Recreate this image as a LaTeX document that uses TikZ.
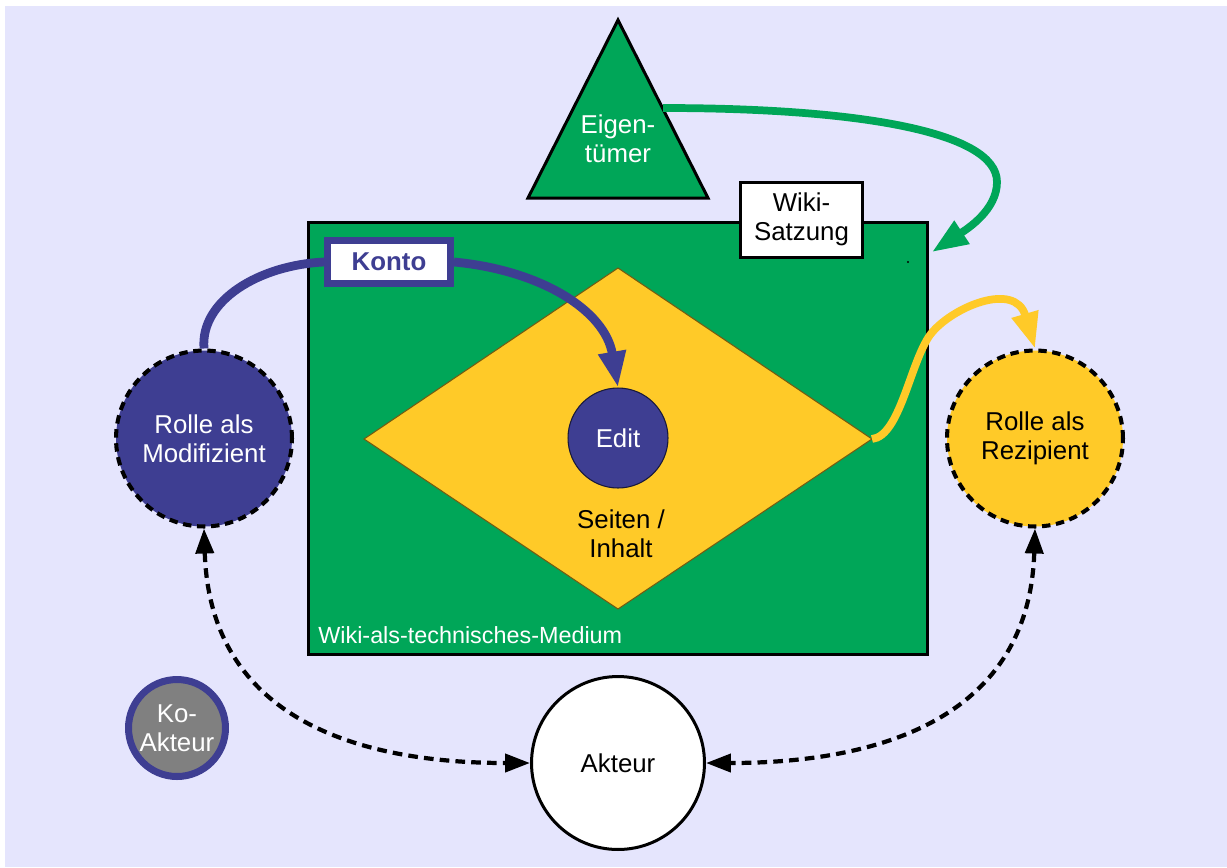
\documentclass[tikz,border=0pt]{standalone}
\usepackage{fontspec}
\setmainfont{Liberation Sans}
\usetikzlibrary{arrows.meta,calc}
\definecolor{bgl}{RGB}{229,229,253}
\definecolor{wgreen}{RGB}{0,166,88}
\definecolor{wyellow}{RGB}{255,202,40}
\definecolor{wnavy}{RGB}{62,62,146}
\definecolor{kgrey}{RGB}{128,128,128}
\begin{document}
\begin{tikzpicture}[x=0.02cm,y=-0.02cm,
  font=\fontsize{14.7}{16.5}\selectfont,
  role/.style={circle, draw=black, line width=2.3pt, dash pattern=on 4.8pt off 3.2pt,
    minimum size=3.52cm, inner sep=0pt, align=center},
  dashconn/.style={line width=2.4pt, dash pattern=on 5.5pt off 3.5pt,
    {Triangle[length=0.5cm,width=0.36cm]}-{Triangle[length=0.5cm,width=0.36cm]}},
  thickarrow/.style={line width=#1, -{Triangle[length=0.72cm,width=0.52cm]}},
  txt/.style={align=center, inner sep=0pt}
]
\useasboundingbox (0,0) rectangle (1227,867);
\fill[bgl] (5,6) rectangle (1227,867);

% medium rectangle
\node[draw=black, fill=wgreen, line width=0.06cm, minimum width=12.4cm, minimum height=8.66cm,
  inner sep=0pt] (medium) at (618,438.5) {};
\node[anchor=west, text=white, font=\fontsize{13.3}{15}\selectfont, inner sep=0pt] (medlabel) at (318,635) {Wiki-als-technisches-Medium};
\fill[black] (908,262) circle (1.2);

% diamond (pages / content)
\coordinate (dL) at (364,439);
\coordinate (dT) at (618,268);
\coordinate (dR) at (872,439);
\coordinate (dB) at (618,609);
\filldraw[fill=wyellow, draw=black!55!wyellow, line width=0.6pt] (dL) -- (dT) -- (dR) -- (dB) -- cycle;
\node[txt, text=black] (seiten) at (621,534) {Seiten /\\Inhalt};

% edit
\node[circle, fill=wnavy, draw=black!60!wnavy, line width=0.6pt, minimum size=2cm, inner sep=0pt,
  text=white] (edit) at (618,438) {Edit};

% owner triangle
\coordinate (tA) at (618,20);
\coordinate (tL) at (528,198);
\coordinate (tR) at (708,198);
\filldraw[fill=wgreen, draw=black, line width=0.06cm, line join=miter] (tA) -- (tR) -- (tL) -- cycle;
\node[txt, text=white] (eigen) at (618,139) {Eigen-\\tümer};
\coordinate (eigR) at (663,108);

% Wiki-Satzung
\node[draw=black, fill=white, line width=0.06cm, minimum width=2.46cm, minimum height=1.5cm,
  inner sep=0pt, align=center] (satzung) at (801.5,219.5) {Wiki-\\Satzung};

% Konto
\node[draw=wnavy, fill=white, line width=0.14cm, minimum width=2.46cm, minimum height=0.86cm,
  inner sep=0pt, text=wnavy, font=\fontsize{14.7}{16.5}\selectfont\bfseries] (konto) at (389,262) {Konto};

% role circles
\node[role, fill=wnavy, text=white] (mod) at (204,438.5) {Rolle als\\Modifizient};
\node[role, fill=wyellow, text=black] (rez) at (1035,438.5) {Rolle als\\Rezipient};

% actors
\node[circle, draw=black, fill=white, line width=0.06cm, minimum size=3.46cm, inner sep=0pt] (akt) at (618,763) {Akteur};
\node[circle, draw=wnavy, fill=kgrey, line width=0.14cm, minimum size=1.94cm, inner sep=0pt,
  text=white, align=center] (ko) at (177,728) {Ko-\\Akteur};

% connectors
\coordinate (gtip) at (932,252);
\draw[wgreen, thickarrow=4.4pt] (eigR) .. controls (850,108) and (997,130) .. (997,182)
  .. controls (997,210) and (967,229) .. (gtip);
\draw[wnavy, line width=5pt] (mod.north) .. controls (200,300) and (260,265) .. (konto.west);
\draw[wnavy, thickarrow=5pt] (konto.east) .. controls (540,270) and (605,310) .. (edit.north);
\draw[wyellow, thickarrow=4.4pt] (dR) .. controls (900,436) and (910,363) .. (930,335)
  .. controls (950,308) and (1015,280) .. (rez.north);
\draw[dashconn] (mod.south) .. controls (210,720) and (360,763) .. (akt.west);
\draw[dashconn] (rez.south) .. controls (1029,720) and (876,763) .. (akt.east);
\end{tikzpicture}
\end{document}
